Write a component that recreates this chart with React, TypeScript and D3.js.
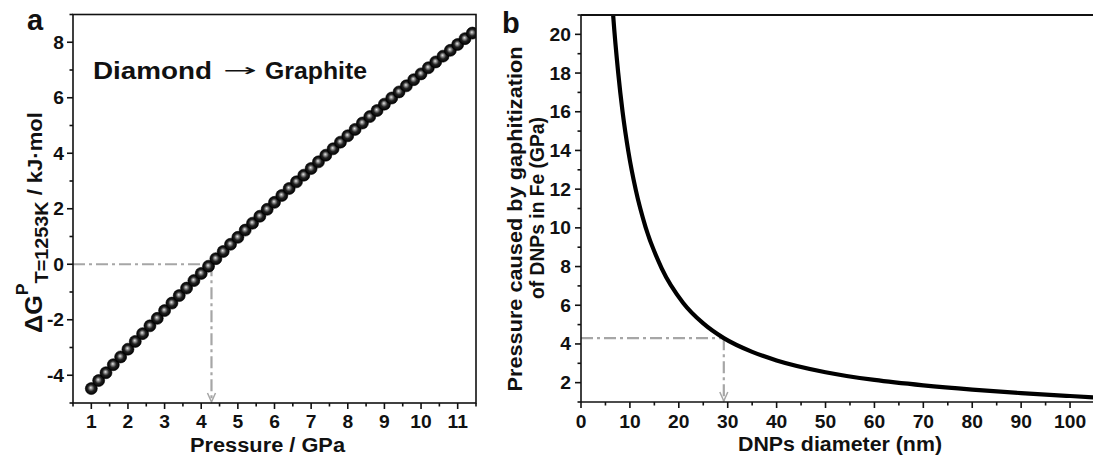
import React from 'react';
import * as d3 from 'd3';

// Panel a: Gibbs energy difference vs pressure
const pressureGPa = [1.0, 1.2, 1.4, 1.6, 1.8, 2.0, 2.2, 2.4, 2.6, 2.8, 3.0, 3.2, 3.4, 3.6, 3.8, 4.0, 4.2, 4.4, 4.6, 4.8, 5.0, 5.2, 5.4, 5.6, 5.8, 6.0, 6.2, 6.4, 6.6, 6.8, 7.0, 7.2, 7.4, 7.6, 7.8, 8.0, 8.2, 8.4, 8.6, 8.8, 9.0, 9.2, 9.4, 9.6, 9.8, 10.0, 10.2, 10.4, 10.6, 10.8, 11.0, 11.2, 11.4];
const deltaG = [-4.48, -4.19, -3.91, -3.62, -3.34, -3.06, -2.78, -2.5, -2.22, -1.95, -1.67, -1.4, -1.13, -0.86, -0.59, -0.33, -0.07, 0.2, 0.46, 0.72, 0.97, 1.23, 1.48, 1.73, 1.98, 2.23, 2.48, 2.73, 2.97, 3.21, 3.45, 3.69, 3.93, 4.16, 4.4, 4.63, 4.86, 5.09, 5.32, 5.54, 5.77, 5.99, 6.21, 6.43, 6.65, 6.86, 7.08, 7.29, 7.5, 7.71, 7.92, 8.13, 8.33];
const aXTicks = [1, 2, 3, 4, 5, 6, 7, 8, 9, 10, 11];
const aXMinor = [0.5, 1.5, 2.5, 3.5, 4.5, 5.5, 6.5, 7.5, 8.5, 9.5, 10.5, 11.5];
const aYTicks = [-4, -2, 0, 2, 4, 6, 8];
const aYMinor = [-5, -3, -1, 1, 3, 5, 7, 9];
const aCross = { p: 4.28, g: 0 };

// Panel b: pressure vs DNP diameter
const diamNm = [6.3, 6.6, 7.6, 8.5, 9.7, 11.2, 13.2, 16.5, 20.9, 25, 29.2, 35, 40, 50, 60, 70, 80, 90, 100, 105];
const pressureFe = [22, 20.9, 18.03, 16.0, 13.92, 11.96, 10.04, 7.91, 6.12, 5.06, 4.3, 3.59, 3.15, 2.54, 2.14, 1.86, 1.64, 1.46, 1.31, 1.24];
const bXTicks = [0, 10, 20, 30, 40, 50, 60, 70, 80, 90, 100];
const bXMinor = [5, 15, 25, 35, 45, 55, 65, 75, 85, 95];
const bYTicks = [2, 4, 6, 8, 10, 12, 14, 16, 18, 20];
const bYMinor = [1, 3, 5, 7, 9, 11, 13, 15, 17, 19, 21];
const bCross = { d: 29.2, p: 4.3 };

const FONT = '"Liberation Sans", Arial, Helvetica, sans-serif';
const GRAY = '#a6a6a6';
const DASH = '12,4,3,4';

export default function App() {
  const ax = d3.scaleLinear().domain([0.5, 11.5]).range([73, 476]);
  const ay = d3.scaleLinear().domain([-5, 9]).range([403, 14.5]);
  const bx = d3.scaleLinear().domain([0, 105]).range([581, 1094.5]);
  const by = d3.scaleLinear().domain([1, 21]).range([402, 15]);

  const bLine = d3
    .line<number>()
    .x((d) => bx(d))
    .y((_, i) => by(pressureFe[i]))
    .curve(d3.curveMonotoneX)(diamNm) as string;

  const tickLabel = (x: number, y: number, s: string, anchor: string) => (
    <text
      key={`${x}-${y}-${s}`}
      transform={`translate(${x},${y}) scale(1.1,1)`}
      textAnchor={anchor as any}
      fontSize={17.5}
      fontWeight="bold"
      fontFamily={FONT}
      fill="#111"
    >
      {s}
    </text>
  );

  const aBottom = ay.range()[0];
  const aLeft = ax.range()[0];
  const bBottom = by.range()[0];
  const bLeft = bx.range()[0];

  const arrow = (x: number, y: number) => (
    <path d={`M${x - 4},${y - 9} L${x},${y} L${x + 4},${y - 9}`} fill="none" stroke={GRAY} strokeWidth={1.5} />
  );

  return (
    <svg width={1093} height={457} style={{ position: 'absolute', left: 0, top: 0, background: '#fff' }}>
      <defs>
        <radialGradient id="ball" cx="50%" cy="50%" r="50%" fx="45%" fy="42%">
          <stop offset="0%" stopColor="#e6e6e6" />
          <stop offset="25%" stopColor="#8a8a8a" />
          <stop offset="55%" stopColor="#222" />
          <stop offset="100%" stopColor="#000" />
        </radialGradient>
        <clipPath id="clipA">
          <rect x={aLeft} y={ay.range()[1]} width={ax.range()[1] - aLeft} height={aBottom - ay.range()[1]} />
        </clipPath>
        <clipPath id="clipB">
          <rect x={bLeft} y={by.range()[1]} width={1093 - bLeft} height={bBottom - by.range()[1]} />
        </clipPath>
      </defs>
      <rect width={1093} height={457} fill="#fff" />

      {/* ===== Panel a ===== */}
      <line x1={aLeft} x2={ax(aCross.p)} y1={ay(aCross.g)} y2={ay(aCross.g)} stroke={GRAY} strokeWidth={2.2} strokeDasharray={DASH} />
      <line x1={ax(aCross.p)} x2={ax(aCross.p)} y1={ay(aCross.g)} y2={aBottom - 1} stroke={GRAY} strokeWidth={2.2} strokeDasharray={DASH} />
      {arrow(ax(aCross.p), aBottom - 1)}

      <g clipPath="url(#clipA)">
        {pressureGPa.map((p, i) => (
          <circle key={i} cx={ax(p)} cy={ay(deltaG[i])} r={6} fill="url(#ball)" stroke="#000" strokeWidth={0.6} />
        ))}
      </g>

      <rect x={aLeft} y={ay.range()[1]} width={ax.range()[1] - aLeft} height={aBottom - ay.range()[1]} fill="none" stroke="#111" strokeWidth={1.6} />
      {aXTicks.map((t) => (
        <line key={`axt${t}`} x1={ax(t)} x2={ax(t)} y1={aBottom} y2={aBottom + 6} stroke="#111" strokeWidth={1.6} />
      ))}
      {aXMinor.map((t) => (
        <line key={`axm${t}`} x1={ax(t)} x2={ax(t)} y1={aBottom} y2={aBottom + 3.5} stroke="#111" strokeWidth={1.6} />
      ))}
      {aYTicks.map((t) => (
        <line key={`ayt${t}`} x1={aLeft - 6} x2={aLeft} y1={ay(t)} y2={ay(t)} stroke="#111" strokeWidth={1.6} />
      ))}
      {aYMinor.map((t) => (
        <line key={`aym${t}`} x1={aLeft - 3.5} x2={aLeft} y1={ay(t)} y2={ay(t)} stroke="#111" strokeWidth={1.6} />
      ))}
      {aXTicks.map((t) => tickLabel(ax(t), 428, String(t), 'middle'))}
      {aYTicks.map((t) => tickLabel(64, ay(t) + 6.5, String(t), 'end'))}

      <text x={190} y={452} textLength={155} lengthAdjust="spacingAndGlyphs" fontSize={19.5} fontWeight="bold" fontFamily={FONT} fill="#111">
        Pressure / GPa
      </text>
      <text transform="translate(41.5,333) rotate(-90) scale(1.1,1)" fontWeight="bold" fontFamily={FONT} fill="#111">
        <tspan fontSize={23}>ΔG</tspan>
        <tspan fontSize={16} dy={-14}>P</tspan>
        <tspan fontSize={18} dy={20}>T=1253K</tspan>
        <tspan fontSize={20} dy={-6}> / kJ·mol</tspan>
      </text>
      <text x={93} y={79} textLength={119} lengthAdjust="spacingAndGlyphs" fontSize={24} fontWeight="bold" fontFamily={FONT} fill="#111">
        Diamond
      </text>
      <text x={223} y={76} textLength={34} lengthAdjust="spacingAndGlyphs" fontSize={17} fontFamily='"DejaVu Sans", sans-serif' fill="#111">
        →
      </text>
      <text x={265} y={79} textLength={102} lengthAdjust="spacingAndGlyphs" fontSize={24} fontWeight="bold" fontFamily={FONT} fill="#111">
        Graphite
      </text>
      <text x={27} y={30} fontSize={29} fontWeight="bold" fontFamily={FONT} fill="#111">a</text>

      {/* ===== Panel b ===== */}
      <line x1={bLeft} x2={bx(bCross.d)} y1={by(bCross.p)} y2={by(bCross.p)} stroke={GRAY} strokeWidth={2.2} strokeDasharray={DASH} />
      <line x1={bx(bCross.d)} x2={bx(bCross.d)} y1={by(bCross.p)} y2={bBottom - 1} stroke={GRAY} strokeWidth={2.2} strokeDasharray={DASH} />
      {arrow(bx(bCross.d), bBottom - 1)}

      <g clipPath="url(#clipB)">
        <path d={bLine} fill="none" stroke="#000" strokeWidth={4.2} strokeLinejoin="round" />
      </g>

      <line x1={bLeft} x2={1093} y1={by.range()[1]} y2={by.range()[1]} stroke="#111" strokeWidth={1.8} />
      <line x1={bLeft} x2={bLeft} y1={by.range()[1]} y2={bBottom} stroke="#111" strokeWidth={1.6} />
      <line x1={bLeft} x2={1093} y1={bBottom} y2={bBottom} stroke="#111" strokeWidth={1.6} />
      {bXTicks.map((t) => (
        <line key={`bxt${t}`} x1={bx(t)} x2={bx(t)} y1={bBottom} y2={bBottom + 6} stroke="#111" strokeWidth={1.6} />
      ))}
      {bXMinor.map((t) => (
        <line key={`bxm${t}`} x1={bx(t)} x2={bx(t)} y1={bBottom} y2={bBottom + 3.5} stroke="#111" strokeWidth={1.6} />
      ))}
      {bYTicks.map((t) => (
        <line key={`byt${t}`} x1={bLeft - 6} x2={bLeft} y1={by(t)} y2={by(t)} stroke="#111" strokeWidth={1.6} />
      ))}
      {bYMinor.map((t) => (
        <line key={`bym${t}`} x1={bLeft - 3.5} x2={bLeft} y1={by(t)} y2={by(t)} stroke="#111" strokeWidth={1.6} />
      ))}
      {bXTicks.map((t) => tickLabel(bx(t), 428, String(t), 'middle'))}
      {bYTicks.map((t) => tickLabel(571, by(t) + 6.5, String(t), 'end'))}

      <text x={738} y={451} textLength={204} lengthAdjust="spacingAndGlyphs" fontSize={19.5} fontWeight="bold" fontFamily={FONT} fill="#111">
        DNPs diameter (nm)
      </text>
      <text transform="translate(522,219) rotate(-90)" textAnchor="middle" textLength={345} lengthAdjust="spacingAndGlyphs" fontSize={21} fontWeight="bold" fontFamily={FONT} fill="#111">
        Pressure caused by gaphitization
      </text>
      <text transform="translate(544,208) rotate(-90)" textAnchor="middle" textLength={182} lengthAdjust="spacingAndGlyphs" fontSize={21} fontWeight="bold" fontFamily={FONT} fill="#111">
        of DNPs in Fe (GPa)
      </text>
      <text x={502} y={33} fontSize={29} fontWeight="bold" fontFamily={FONT} fill="#111">b</text>
    </svg>
  );
}
